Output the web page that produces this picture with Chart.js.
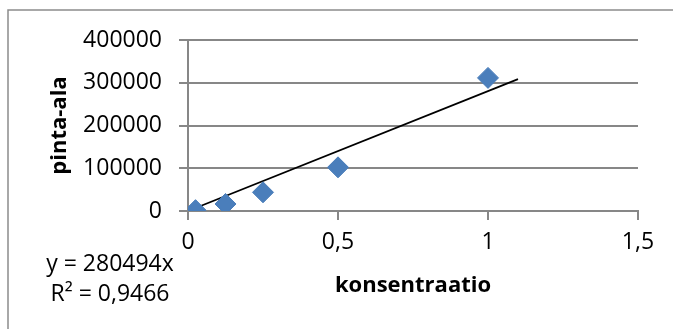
<!DOCTYPE html>
<html>
<head>
<meta charset="utf-8">
<script src="https://cdn.jsdelivr.net/npm/chart.js@4/dist/chart.umd.min.js"></script>
<style>
  html, body { margin: 0; padding: 0; background: #ffffff; }
  #wrap { width: 673px; height: 329px; position: relative; }
</style>
</head>
<body>
<div id="wrap"><canvas id="c" width="673" height="329"></canvas></div>
<script>
// Data
const concentrations = [0.025, 0.125, 0.25, 0.5, 1.0];
const areas = [2000, 16400, 43700, 102100, 311400];
const trendX = [0.025, 1.1];
const trendY = [7012, 308543];
const yTicks = [0, 100000, 200000, 300000, 400000];
const xTicks = [0, 0.5, 1, 1.5];
const xTitle = 'konsentraatio';
const yTitle = 'pinta-ala';
const equationLines = ['y = 280494x', 'R\u00B2 = 0,9466'];

const GRID = '#878787';
const FONT = '"Open Sans", "Liberation Sans", Arial, sans-serif';

const decorPlugin = {
  id: 'decor',
  beforeDraw(chart) {
    const ctx = chart.ctx;
    ctx.save();
    ctx.fillStyle = '#ffffff';
    ctx.fillRect(0, 0, chart.width, chart.height);
    ctx.strokeStyle = '#8c8c8c';
    ctx.lineWidth = 1.5;
    ctx.beginPath();
    ctx.moveTo(8, chart.height);
    ctx.lineTo(8, 10);
    ctx.lineTo(chart.width, 10);
    ctx.stroke();
    ctx.restore();
  },
  afterDraw(chart) {
    const ctx = chart.ctx;
    const area = chart.chartArea;
    ctx.save();
    ctx.fillStyle = '#000000';
    // x title
    ctx.font = 'bold 22px ' + FONT;
    ctx.textAlign = 'center';
    ctx.textBaseline = 'middle';
    ctx.fillText(xTitle, (area.left + area.right) / 2, 286);
    // y title
    ctx.save();
    ctx.translate(60, (area.top + area.bottom) / 2);
    ctx.rotate(-Math.PI / 2);
    ctx.fillText(yTitle, 0, 0);
    ctx.restore();
    // equation
    ctx.font = '23px ' + FONT;
    ctx.fillText(equationLines[0], 110, 264);
    ctx.fillText(equationLines[1], 110, 294);
    ctx.restore();
  }
};

new Chart(document.getElementById('c'), {
  type: 'scatter',
  data: {
    datasets: [
      {
        label: 'trend',
        type: 'line',
        data: trendX.map((x, i) => ({ x: x, y: trendY[i] })),
        borderColor: '#000000',
        borderWidth: 1.8,
        pointRadius: 0,
        fill: false,
        order: 2
      },
      {
        label: 'pinta-ala',
        data: concentrations.map((x, i) => ({ x: x, y: areas[i] })),
        pointStyle: 'rectRot',
        pointRadius: 10.5,
        pointHoverRadius: 10.5,
        backgroundColor: '#4a7ebb',
        borderColor: '#4a7ebb',
        borderWidth: 1,
        order: 1
      }
    ]
  },
  options: {
    responsive: false,
    animation: false,
    events: [],
    layout: { padding: { left: 0, top: 40, right: 35, bottom: 0 } },
    plugins: {
      legend: { display: false },
      tooltip: { enabled: false }
    },
    scales: {
      x: {
        type: 'linear',
        min: 0,
        max: 1.5,
        afterBuildTicks(scale) { scale.ticks = xTicks.map(v => ({ value: v })); },
        afterFit(scale) { scale.height = 118; },
        grid: {
          display: true,
          drawOnChartArea: false,
          drawTicks: true,
          tickLength: 9,
          color: GRID,
          lineWidth: 2
        },
        border: { display: true, color: GRID, width: 2 },
        ticks: {
          color: '#000000',
          font: { family: FONT, size: 23 },
          padding: 9,
          maxRotation: 0,
          callback: v => String(v).replace('.', ',')
        }
      },
      y: {
        type: 'linear',
        min: 0,
        max: 400000,
        afterBuildTicks(scale) { scale.ticks = yTicks.map(v => ({ value: v })); },
        afterFit(scale) { scale.width = 188; },
        grid: {
          display: true,
          drawOnChartArea: true,
          drawTicks: true,
          tickLength: 9,
          color: GRID,
          lineWidth: 2
        },
        border: { display: true, color: GRID, width: 2 },
        ticks: {
          color: '#000000',
          font: { family: FONT, size: 23 },
          padding: 17,
          callback: v => String(v)
        }
      }
    }
  },
  plugins: [decorPlugin]
});
</script>
</body>
</html>
